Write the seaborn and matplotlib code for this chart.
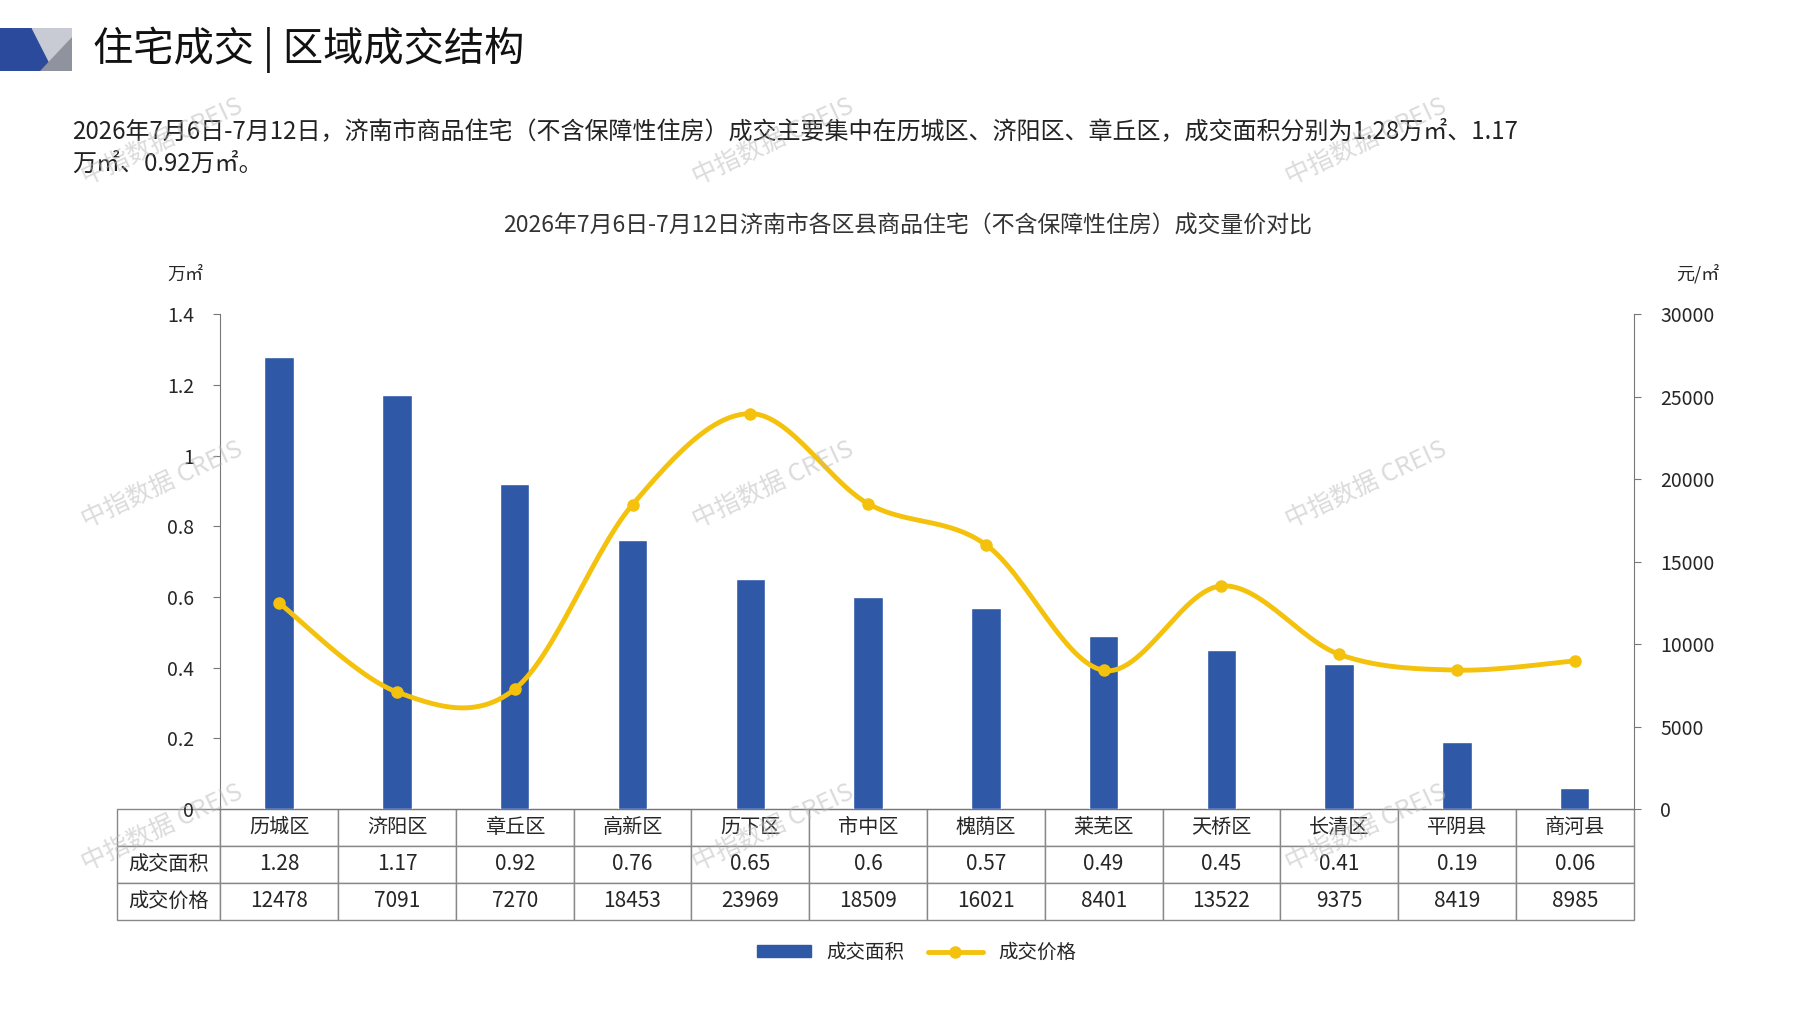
import numpy as np
import matplotlib
matplotlib.use('Agg')
import matplotlib.pyplot as plt
import seaborn as sns
from matplotlib.patches import Polygon, Patch
from matplotlib.lines import Line2D

sns.set_style('white')
plt.rcParams['font.family'] = ['Noto Sans CJK SC', 'DejaVu Sans']

# 数据
districts = ['历城区', '济阳区', '章丘区', '高新区', '历下区', '市中区', '槐荫区', '莱芜区', '天桥区', '长清区', '平阴县', '商河县']
area = [1.28, 1.17, 0.92, 0.76, 0.65, 0.6, 0.57, 0.49, 0.45, 0.41, 0.19, 0.06]
price = [12478, 7091, 7270, 18453, 23969, 18509, 16021, 8401, 13522, 9375, 8419, 8985]
area_labels = ['1.28', '1.17', '0.92', '0.76', '0.65', '0.6', '0.57', '0.49', '0.45', '0.41', '0.19', '0.06']

blue = '#2F58A7'
yellow = '#F4C20D'

fig = plt.figure(figsize=(17.97, 10.10), dpi=100)

# 顶部装饰
deco = fig.add_axes([0, 0.93, 0.04, 0.042])
deco.axis('off')
deco.set_xlim(0, 1); deco.set_ylim(0, 1)
deco.add_patch(Polygon([[0, 0], [0, 1], [0.45, 1], [0.75, 0]], color='#2B4A9C'))
deco.add_patch(Polygon([[0.45, 1], [0.75, 0], [1, 0], [1, 1]], color='#C8CBD3'))
deco.add_patch(Polygon([[0.55, 0], [1, 0], [1, 0.8]], color='#8E939E'))

fig.text(0.052, 0.951, '住宅成交 | 区域成交结构', fontsize=29, va='center', color='#111')
fig.text(0.04, 0.870, '2026年7月6日-7月12日，济南市商品住宅（不含保障性住房）成交主要集中在历城区、济阳区、章丘区，成交面积分别为1.28万㎡、1.17',
         fontsize=17.3, va='center', color='#222')
fig.text(0.04, 0.838, '万㎡、0.92万㎡。', fontsize=17.3, va='center', color='#222')
fig.text(0.505, 0.776, '2026年7月6日-7月12日济南市各区县商品住宅（不含保障性住房）成交量价对比',
         fontsize=16.5, ha='center', va='center', color='#333')

ax = fig.add_axes([0.1226, 0.199, 0.7865, 0.490])
sns.barplot(x=districts, y=area, color=blue, width=0.25, saturation=1, ax=ax)
ax.set_xlim(-0.5, 11.5)
ax.set_ylim(0, 1.4)
ax.set_yticks([0, 0.2, 0.4, 0.6, 0.8, 1.0, 1.2, 1.4])
ax.set_yticklabels(['0', '0.2', '0.4', '0.6', '0.8', '1', '1.2', '1.4'], fontsize=14)
ax.set_xticks([])
ax.set_xlabel(''); ax.set_ylabel('')
for s in ['top', 'right']:
    ax.spines[s].set_visible(False)
ax.spines['left'].set_color('#777')
ax.spines['bottom'].set_color('#777')
ax.tick_params(axis='y', length=5, color='#777', pad=14, left=True)
ax.text(-0.025, 1.07, '万㎡', transform=ax.transAxes, fontsize=13, ha='center')

ax2 = ax.twinx()
ax2.set_ylim(0, 30000)
ax2.set_yticks(range(0, 30001, 5000))
ax2.tick_params(axis='y', labelsize=14, length=5, color='#777', pad=14, right=True)
for s in ['top', 'left', 'bottom']:
    ax2.spines[s].set_visible(False)
ax2.spines['right'].set_color('#777')
ax.text(1.045, 1.07, '元/㎡', transform=ax.transAxes, fontsize=13, ha='center')

# 平滑曲线 (Catmull-Rom)
x = np.arange(len(price), dtype=float)
y = np.array(price, dtype=float)
px = np.concatenate([[x[0]], x, [x[-1]]])
py = np.concatenate([[y[0]], y, [y[-1]]])
xs, ys = [], []
t = np.linspace(0, 1, 30)
for i in range(1, len(px) - 2):
    for arr, out in ((px, xs), (py, ys)):
        p0, p1, p2, p3 = arr[i - 1], arr[i], arr[i + 1], arr[i + 2]
        out.extend(0.5 * (2 * p1 + (-p0 + p2) * t + (2 * p0 - 5 * p1 + 4 * p2 - p3) * t ** 2
                          + (-p0 + 3 * p1 - 3 * p2 + p3) * t ** 3))
ax2.plot(xs, ys, color=yellow, lw=3.5)
ax2.plot(x, y, 'o', color=yellow, ms=8)

# 表格
cells = [[''] + districts,
         ['成交面积'] + area_labels,
         ['成交价格'] + [str(p) for p in price]]
w0 = 90 / 1325
widths = [w0] + [(1 - w0) / 12] * 12
tb = ax.table(cellText=cells, colWidths=widths, bbox=[-0.0729, -0.224, 1.0729, 0.224], cellLoc='center')
tb.auto_set_font_size(False)
for (r, c), cell in tb.get_celld().items():
    cell.set_edgecolor('#888')
    cell.set_linewidth(1)
    cell.get_text().set_fontsize(15 if c > 0 and r > 0 else 14.5)

# 图例
handles = [Patch(color=blue, label='成交面积'),
           Line2D([0], [0], color=yellow, lw=3.5, marker='o', ms=8, label='成交价格')]
fig.legend(handles=handles, loc='center', bbox_to_anchor=(0.51, 0.057), ncol=2, frameon=False,
           fontsize=14, handlelength=2.8, handleheight=0.5, columnspacing=1.2)

# 水印
for wx, wy in [(0.09, 0.52), (0.43, 0.52), (0.76, 0.52), (0.09, 0.86), (0.43, 0.86), (0.76, 0.86),
               (0.09, 0.18), (0.43, 0.18), (0.76, 0.18)]:
    fig.text(wx, wy, '中指数据 CREIS', fontsize=18, rotation=25, color='#B8B8B8', alpha=0.5,
             ha='center', va='center')

fig.savefig('out.png', dpi=100)
